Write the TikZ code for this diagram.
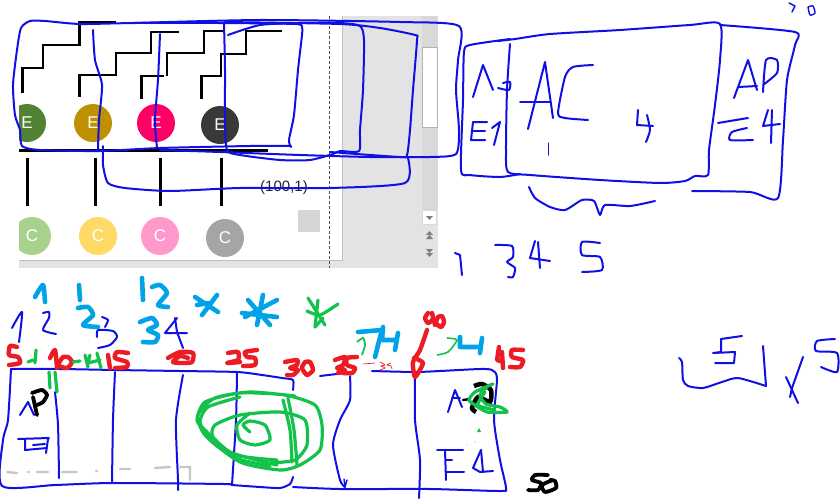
\documentclass[tikz,border=0pt]{standalone}
\usepackage{fontspec}
\setmainfont{Liberation Sans}
\definecolor{inkblue}{HTML}{1010E6}
\definecolor{inkred}{HTML}{ED1C24}
\definecolor{inkgreen}{HTML}{12C24A}
\definecolor{inkcyan}{HTML}{00A2E8}
\tikzset{
  bl/.style={draw=inkblue,line width=2pt,line cap=round,line join=round},
  blt/.style={draw=inkblue,line width=1.4pt,line cap=round,line join=round},
  rd/.style={draw=inkred,line width=4.4pt,line cap=round,line join=round},
  gn/.style={draw=inkgreen,line width=3.2pt,line cap=round,line join=round},
  cy/.style={draw=inkcyan,line width=4.6pt,line cap=round,line join=round},
  bk/.style={draw=black,line width=2.5pt},
  ink/.style={draw=black,line width=3.8pt,line cap=round,line join=round},
  ev/.style={circle,minimum size=38pt,inner sep=0pt,text=white,font=\fontsize{17}{17}\selectfont},
  gd/.style={draw=black!22,line width=2.4pt,line cap=round},
}
\newcommand\st[2]{\draw[#1] plot[smooth,tension=.4] coordinates {#2};}
\begin{document}
\begin{tikzpicture}[x=1pt,y=-1pt]
\useasboundingbox (0,0) rectangle (840,498);
\fill[white] (0,0) rectangle (840,498);
% window
\fill[black!11] (19,16) rectangle (438,268);
\fill[white] (19,0) rectangle (342,260);
\fill[white] (342,0) rectangle (438,16);
\draw[black!25,line width=.8pt] (342,16) -- (342,260.5) -- (19,260.5);
\fill[black!15] (422,16) rectangle (438,210);
\fill[white] (422.5,47.5) rectangle (437,127);
\draw[black!30,line width=.8pt] (422.5,47.5) rectangle (437,127);
\draw[black!15,fill=white,line width=.8pt] (422.5,210.5) rectangle (436.5,224);
\fill[black!50] (426,216) -- (433,216) -- (429.5,220) -- cycle;
\fill[black!50] (426,235) -- (433,235) -- (429.5,231) -- cycle;
\fill[black!50] (426,239) -- (433,239) -- (429.5,235) -- cycle;
\fill[black!50] (426,249) -- (433,249) -- (429.5,253) -- cycle;
\fill[black!50] (426,253) -- (433,253) -- (429.5,257) -- cycle;
\fill[black!16] (298,210) rectangle (320,232);
\draw[black!70,densely dashed,line width=.6pt] (329.5,16) -- (329.5,268);
% circles
\begin{scope}
\clip (19,0) rectangle (438,268);
\node[ev,fill={rgb,255:red,84;green,130;blue,53}] (e1) at (27,123) {E};
\node[ev,fill={rgb,255:red,191;green,144;blue,0}] (e2) at (93,123) {E};
\node[ev,fill={rgb,255:red,255;green,0;blue,102}] (e3) at (156,123) {E};
\node[ev,fill={rgb,255:red,59;green,56;blue,56}] (e4) at (220,125) {E};
\node[ev,fill={rgb,255:red,169;green,209;blue,142}] (c1) at (32,236) {C};
\node[ev,fill={rgb,255:red,255;green,217;blue,102}] (c2) at (98,236) {C};
\node[ev,fill={rgb,255:red,255;green,153;blue,204}] (c3) at (160,236) {C};
\node[ev,fill={rgb,255:red,165;green,165;blue,165}] (c4) at (225,238) {C};
\end{scope}
\node[font=\fontsize{15}{15}\selectfont,text=black!85] (lab) at (284,188) {(100,1)};
% black stairs
\draw[bk] (22.5,93)--(22.5,68)--(43,68)--(43,45)--(79.5,45)--(79.5,22)--(116,22);
\draw[bk] (79.5,97)--(79.5,75)--(116,75)--(116,53)--(151,53)--(151,32)--(179,32);
\draw[bk] (141.5,99)--(141.5,76)--(164,76);
\draw[bk] (167,76)--(167,53)--(204,53)--(204,31)--(223,31);
\draw[bk] (201.5,99)--(201.5,76)--(221,76)--(221,54)--(246,54)--(246,31)--(282,31);
\draw[black,line width=3pt] (19,150)--(268,150);
\draw[black,line width=2.6pt] (27.5,158)--(27.5,206);
\draw[black,line width=2.6pt] (95.5,158)--(95.5,206);
\draw[black,line width=2.6pt] (160.5,158)--(160.5,206);
\draw[black,line width=2.2pt] (221.5,158)--(221.5,206);
% blue loops, upper left
\st{bl}{(291,146)(250,146)(160,148)(100,151)(40,150)(22,146)(20,130)(15,115)(13,85)(17,50)(21,28)(30,21)(45,21)(80,24)(135,23)(220,23)(295,24)(302,27)(302,35)(298,70)(294,115)(289,140)(291,147)}
\st{bl}{(228,35)(260,25)(300,23)(340,23)(360,26)(364,40)(363,90)(360,130)(359,151)(340,151)(333,154)(310,160)(280,160)(240,155)(227,150)(225,120)(225,70)(224,23)}
\st{bl}{(133,23)(260,20)(400,22)(459,26)(458,60)(456,90)(459,130)(456,154)(430,157)(370,157)(300,155)(220,152)(160,150)}
\st{bl}{(93,30)(95,60)(102,85)(99,120)(98,150)}
\st{bl}{(160,34)(158,80)(155,120)(157,148)}
\st{bl}{(225,22)(340,24)(380,28)(415,35)(417,40)(413,90)(410,130)(407,155)(400,157)(330,152)}
\st{bl}{(103,146)(103,165)(108,183)(125,188)(170,191)(240,188)(330,188)(405,183)(408,158)}
% blue, upper right
\st{bl}{(498,41)(515,39)(550,34)(620,30)(690,25)(720,24)(720,60)(715,105)(709,150)(708,175)(695,176)(685,181)(660,183)(600,180)(530,175)(508,172)(506,150)(507,90)(510,44)}
\st{bl}{(510,39)(470,45)(464,52)(463,100)(461,170)(470,175)(500,177)(520,174)}
\st{bl}{(720,25)(795,32)(795,45)(787,80)(783,140)(778,198)(750,192)(692,191)}
\draw[bl] (473,97)--(483,65)--(493,90);
\st{bl}{(498,88)(509,90)(510,82)(503,83)}
\draw[bl] (487,122)--(473,122)--(471,140)--(485,140);
\draw[bl] (473,131)--(485,131);
\draw[bl] (492,128)--(500,122)--(494,145);
\draw[bl] (528,129)--(545,62)--(553,118);
\draw[bl] (520,102)--(550,102);
\st{bl}{(593,65)(573,67)(565,77)(558,113)(565,118)(588,120)}
\draw[blt] (548.5,143)--(548.5,155);
\draw[bl] (638,110)--(637,125)--(653,126);
\st{bl}{(647,115)(650,130)(646,142)}
\draw[bl] (734,98)--(748,60)--(757,90);
\draw[bl] (738,87)--(757,86);
\st{bl}{(763,92)(766,60)(777,60)(777,73)(763,85)}
\draw[bl] (718,123)--(748,118);
\st{bl}{(747,128)(732,132)(730,140)(753,140)}
\draw[bl] (768,110)--(763,126)--(780,124);
\draw[bl] (772,110)--(771,143);
\st{bl}{(529,187)(535,198)(550,207)(565,210)(582,200)(594,201)(600,215)(605,205)(630,206)(655,201)}
\draw[blt] (789,3)--(795,6)--(792,12);
\st{blt}{(808,7)(810,15)(815,13)(813,6)(808,7)}
\draw[bl] (455,253)--(460,255)--(462,275);
\st{bl}{(495,245)(512,246)(513,257)(507,262)(515,268)(513,277)(508,277)}
\draw[bl] (535,241)--(530,258)--(550,261);
\draw[bl] (538,242)--(540,268);
\st{bl}{(600,243)(582,242)(582,255)(600,257)(602,270)(582,272)}
% blue, lower right
\st{bl}{(679,358)(682,362)(683,380)(688,386)(703,388)(722,382)(738,378)(766,386)}
\draw[bl] (766,386)--(763,346);
\draw[bl] (742,336)--(721,339)--(721,352)--(713,353)--(735,352)--(734,363)--(715,363);
\draw[bl] (803,357)--(792,388)--(790,397);
\draw[bl] (786,377)--(792,390)--(798,403);
\st{bl}{(835,339)(817,341)(816,351)(837,353)(837,372)(821,367)}
% lower box
\st{bl}{(11,369)(60,369)(115,370)(180,371)(237,372)(262,375)(282,378)(293,380)(293,390)}
\draw[bl] (320,376)--(345,373);
\st{bl}{(372,371)(415,372)(440,371)(480,369)(492,370)(497,378)(494,420)(500,460)(506,488)(500,491)(430,489)(340,489)(293,487)}
\st{bl}{(11,369)(8,420)(3,440)(2,486)(55,485)(112,483)(225,484)(232,485)(260,487)(280,488)(290,484)(293,477)}
\st{bl}{(55,392)(58,425)(59,478)}
\st{bl}{(115,372)(113,420)(112,483)}
\st{bl}{(183,375)(176,420)(178,480)(178,490)}
\st{bl}{(237,372)(236,420)(232,485)}
\st{bl}{(350,376)(350,400)(340,420)(333,445)(340,480)(345,487)}
\draw[blt] (344,479)--(345,487)--(347,480);
\st{bl}{(415,375)(415,420)(420,460)(419,498)}
\draw[bl] (20,415)--(28,402)--(34,415);
\draw[bl] (18,439)--(49,438);
\draw[bl] (25,440)--(25,450)--(47,448);
\draw[bl] (33,445)--(45,444);
\draw[bl] (48,439)--(46,453);
\draw[bl] (448,412)--(455,390)--(462,407);
\draw[bl] (452,398)--(460,398);
\draw[bl] (437,450)--(463,450);
\draw[bl] (445,450)--(446,480);
\draw[bl] (446,460)--(452,460);
\draw[bl] (446,472)--(464,472);
\draw[bl] (481,450)--(473,468)--(480,472)--(493,471);
\draw[bl] (481,450)--(483,472);
% blue figures above lower box
\st{bl}{(12,328)(22,312)(19,342)}
\st{bl}{(43,313)(49,312)(49,318)(43,330)(56,334)}
\st{bl}{(102,317)(108,320)(105,327)}
\st{bl}{(97,337)(98,330)(113,331)(117,337)(110,345)(98,348)}
\draw[bl] (177,318)--(165,333)--(187,333);
\draw[bl] (175,318)--(177,332)--(183,348);
% grey dashes
\draw[gd] (7,472)--(17,473) (28,472)--(29,472) (37,472)--(48,472) (62,472)--(77,472) (96,471)--(97,471) (120,469)--(130,469) (155,468)--(170,467) (180,467)--(190,467)--(190,480);
% cyan
\st{cy}{(35,297)(43,285)(45,302)}
\draw[cy] (79,285)--(80,300);
\st{cy}{(78,308)(88,307)(93,315)(83,325)(98,327)}
\draw[cy] (142,278)--(143,300);
\st{cy}{(152,287)(160,285)(167,293)(158,305)(168,307)}
\st{cy}{(140,322)(152,318)(157,325)(148,330)(158,335)(155,342)(143,342)}
\draw[cy] (195,297)--(218,312) (217,295)--(202,315) (197,305)--(208,303);
\draw[cy] (242,313)--(277,317) (263,295)--(257,325) (248,300)--(270,325) (277,300)--(245,317);
\draw[cy] (358,332)--(382,330)--(378,345)--(375,357);
\draw[cy] (383,327)--(382,340)--(397,340) (398,333)--(395,350);
\draw[cy] (460,337)--(460,347)--(480,347) (482,338)--(480,353);
% red
\st{rd}{(17,347)(10,346)(9,355)(18,357)(20,363)(9,365)}
\st{rd}{(50,358)(55,350)(57,368)}
\st{rd}{(63,357)(58,365)(67,368)(72,362)(68,357)(63,357)}
\draw[rd] (108,355)--(110,368);
\st{rd}{(128,353)(117,352)(115,358)(127,362)(127,367)(115,368)}
\st{rd}{(168,358)(180,352)(193,353)(192,362)(182,363)(173,362)(180,356)(188,358)}
\st{rd}{(228,353)(238,352)(238,360)(227,363)(240,362)}
\st{rd}{(257,350)(245,352)(247,357)(255,358)(255,365)(243,366)}
\st{rd}{(285,362)(297,360)(297,365)(290,368)(298,370)(293,375)(287,375)}
\st{rd}{(305,362)(302,368)(307,375)(313,370)(310,362)(305,362)}
\st{rd}{(335,360)(345,357)(343,365)(337,368)(345,370)(338,373)}
\st{rd}{(357,357)(347,358)(347,365)(355,368)(352,373)(343,373)}
\draw[draw=inkred,line width=.7pt] (363,364)--(375,363);
\st{draw=inkred,line width=.7pt}{(380,362)(385,365)(381,366)(385,368)(380,370)}
\st{draw=inkred,line width=.7pt}{(391,363)(387,365)(391,366)(392,369)}
\st{rd}{(428,313)(425,318)(428,323)(433,319)(432,313)(435,325)}
\st{rd}{(438,317)(436,323)(441,327)(444,322)(442,316)(438,317)}
\st{rd}{(427,330)(420,350)(413,362)(415,377)(423,363)(414,358)}
\draw[rd] (499,347)--(497,360)--(503,362) (502,352)--(503,368);
\st{rd}{(523,350)(512,350)(512,357)(523,360)(520,367)(510,367)}
% green
\draw[gn] (28,362)--(33,360) (36,350)--(35,363);
\draw[gn] (73,362)--(80,361) (85,355)--(88,367) (90,355)--(88,363)--(100,360) (97,353)--(101,368);
\draw[gn] (49,372)--(50,388) (55,372)--(57,392);
\st{gn}{(277,465)(230,452)(205,430)(197,420)(205,402)(240,393)(285,395)(315,405)(322,425)(320,450)(300,465)(280,470)(240,462)(205,435)(198,415)(215,398)(250,392)(295,396)}
\st{gn}{(277,460)(235,455)(213,437)(215,425)(240,415)(280,412)(305,420)(307,445)(295,460)(270,463)}
\st{gn}{(270,466)(235,458)(210,440)(200,422)(208,407)(240,397)}
\st{gn}{(250,432)(243,425)(250,421)(265,425)(270,440)(255,445)(240,440)(237,425)(250,413)}
\st{gn}{(288,398)(294,430)(297,465)}
\st{gn}{(283,400)(290,430)(292,462)}
\draw[gn] (308,298)--(325,325) (318,300)--(315,327);
\st{gn}{(307,311)(320,315)(338,304)}
\draw[gn] (315,327)--(323,318);
\st{draw=inkgreen,line width=1.8pt}{(357,342)(363,338)(365,345)(362,355)}
\st{draw=inkgreen,line width=1.6pt}{(447,338)(457,340)(448,352)(437,355)}
\fill[inkgreen] (479,428) -- (481,432) -- (477,432) -- cycle;
\fill[inkgreen!60] (475,442) circle (.7pt) (467,445) circle (.7pt);
% black ink
\st{ink}{(37,415)(33,397)}
\st{ink}{(32,393)(42,390)(47,395)(43,402)(37,405)}
\draw[ink,line width=2.4pt] (463,400)--(470,399);
\st{draw=black,line width=4.5pt}{(474,386)(482,384)(491,390)(490,402)(478,397)(472,408)(476,412)}
\st{ink}{(548,475)(535,475)(532,480)(541,483)(538,490)(528,490)}
\st{ink}{(553,480)(542,485)(545,492)(556,488)(555,481)(550,480)}
\st{gn}{(493,384)(475,392)(469,400)(475,405)(487,412)(507,412)(500,407)(486,404)(480,395)(488,386)(493,384)}
\st{gn}{(485,392)(478,405)(495,410)}
\end{tikzpicture}
\end{document}
